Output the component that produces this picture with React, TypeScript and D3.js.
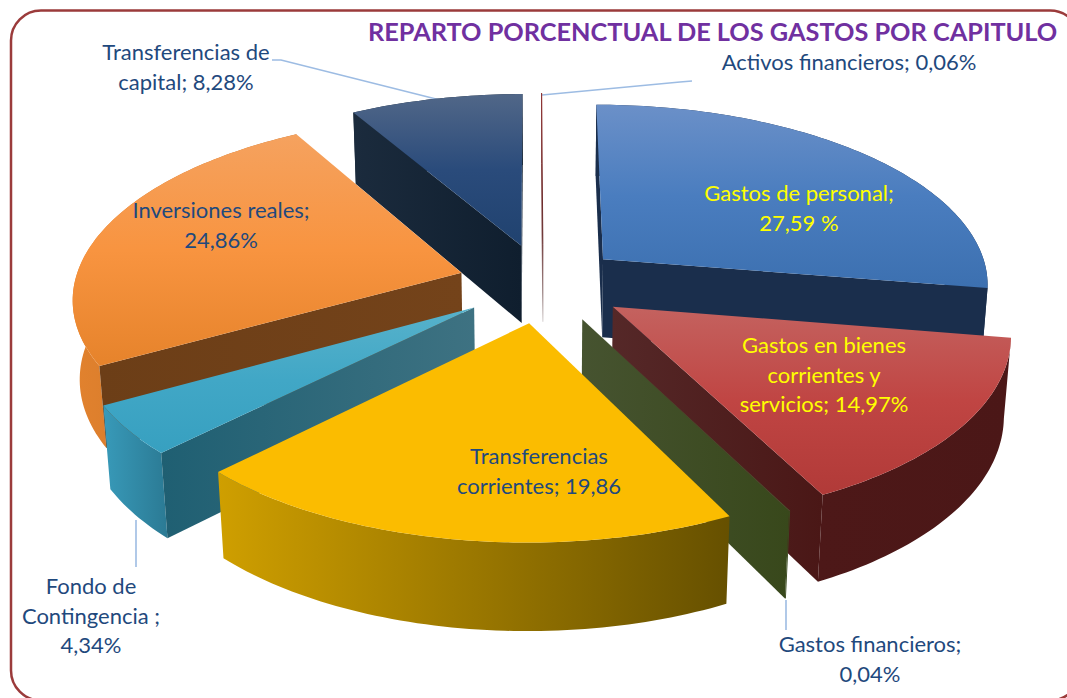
import React from "react";
import * as d3 from "d3";

const categories = ["Gastos de personal","Gastos en bienes corrientes y servicios","Gastos financieros","Transferencias corrientes","Fondo de Contingencia","Inversiones reales","Transferencias de capital","Activos financieros"];
const shares = [27.59, 14.97, 0.04, 19.86, 4.34, 24.86, 8.28, 0.06];
const titleText = "REPARTO PORCENCTUAL DE LOS GASTOS POR CAPITULO";

const labelLines = [
  ["Gastos de personal;", "27,59 %"],
  ["Gastos en bienes", "corrientes y", "servicios; 14,97%"],
  ["Gastos financieros;", "0,04%"],
  ["Transferencias", "corrientes; 19,86"],
  ["Fondo de", "Contingencia ;", "4,34%"],
  ["Inversiones reales;", "24,86%"],
  ["Transferencias de", "capital; 8,28%"],
  ["Activos financieros; 0,06%"],
];

// styles & layout (index-aligned with categories)
const topStops = [
  ["#6b90c8", "#4a7dbf", "#3c70b0"],
  ["#c4625f", "#c04543", "#b13a38"],
  ["#4a5630", "#4a5630", "#4a5630"],
  ["#fbbc00", "#fbbc00", "#fbbc00"],
  ["#57b2cb", "#41a7c6", "#37a0c0"],
  ["#f5a25f", "#f89440", "#e6832b"],
  ["#516788", "#2a4b7b", "#20426f"],
  ["#7a2a2a", "#7a2a2a", "#7a2a2a"],
];
const wallStops = [
  ["#1a2e4c", "#1a2e4c"],
  ["#4d1818", "#4b1717"],
  ["#3a4a1e", "#3a4a1e"],
  ["#cf9f00", "#665000"],
  ["#389ab9", "#2b7a94"],
  ["#e2822e", "#bd6c24"],
  ["#1a2a3c", "#101f30"],
  ["#7a2a2a", "#7a2a2a"],
];
const faceStops = [
  ["#1a2e4c", "#1a2e4c"],
  ["#4a1716", "#552828"],
  ["#38481b", "#465330"],
  ["#6b5200", "#6b5200"],
  ["#3e7282", "#1f5f72"],
  ["#74431a", "#6c3e17"],
  ["#0f1e2e", "#1b2b3d"],
  ["#5f1a1a", "#5f1a1a"],
];
const explodeBy = [0.207, 0.22, 0.22, 0.22, 0.22, 0.22, 0.22, 0.22];
const drawOrder = [6, 7, 0, 5, 4, 1, 2, 3];
const labelAnchors: [number, number][] = [[799, 201], [824, 353], [870, 652], [539, 464], [91, 594], [221, 218], [186, 60], [849, 70]];
const labelColor = ["#ffff00", "#ffff00", "#1f497d", "#1f497d", "#1f497d", "#1f497d", "#1f497d", "#1f497d"];

const leaderPaths: [number, number][][] = [
  [[272, 60], [281, 60], [440, 100]],
  [[542, 95], [680, 82], [692, 81]],
  [[136, 520], [136, 567]],
  [[786, 600], [786, 630]],
];

const W = 1067, H = 698;
const cx = 543, cy = 283, Rx = 387, Ry = 180, persp = 0.128, depth = 80, conv = 0.015;

function project(u: number, v: number, z: number): [number, number] {
  const w = 1 + persp * v + conv * z;
  return [cx + (Rx * u) / w, cy - (Ry * v) / w + (depth * z) / w];
}

const pieGen = d3.pie<number>().sort(null).value((d) => d).startAngle(0).endAngle(2 * Math.PI);
const arcs = pieGen(shares);
const line = d3.line();

function sliceGeometry(i: number) {
  const a = arcs[i];
  const mid = (a.startAngle + a.endAngle) / 2;
  const ox = explodeBy[i] * Math.sin(mid), oy = explodeBy[i] * Math.cos(mid);
  const steps = Math.max(2, Math.ceil((a.endAngle - a.startAngle) / 0.02));
  const angles = d3.range(steps + 1).map((k) => a.startAngle + ((a.endAngle - a.startAngle) * k) / steps);
  const rim = (z: number) => angles.map((t) => project(ox + Math.sin(t), oy + Math.cos(t), z));
  const apex = (z: number) => project(ox, oy, z);
  const rimTop = rim(0), rimBot = rim(1);
  const closed = (pts: [number, number][]) => line(pts) + "Z";
  const top = closed([apex(0), ...rimTop]);
  const wall = closed([...rimTop, ...rimBot.slice().reverse()]);
  const startPoly: [number, number][] = [apex(0), rimTop[0], rimBot[0], apex(1)];
  const endPoly: [number, number][] = [rimTop[steps], apex(0), apex(1), rimBot[steps]];
  return { top, wall, startPoly, endPoly, closed };
}

export default function App() {
  return (
    <svg width={W} height={H} viewBox={`0 0 ${W} ${H}`} style={{ position: "absolute", left: 0, top: 0, display: "block", background: "#fff" }} fontFamily="Lato, Carlito, sans-serif">
      <defs>
        {categories.map((_, i) => (
          <React.Fragment key={i}>
            <linearGradient id={`top${i}`} x1="0" y1="0" x2="0" y2="1">
              <stop offset="0" stopColor={topStops[i][0]} />
              <stop offset="0.5" stopColor={topStops[i][1]} />
              <stop offset="1" stopColor={topStops[i][2]} />
            </linearGradient>
            <linearGradient id={`wall${i}`} x1="0" y1="0" x2="1" y2="0">
              <stop offset="0" stopColor={wallStops[i][0]} />
              <stop offset="1" stopColor={wallStops[i][1]} />
            </linearGradient>
            <linearGradient id={`face${i}`} x1="1" y1="0" x2="0" y2="0">
              <stop offset="0" stopColor={faceStops[i][0]} />
              <stop offset="1" stopColor={faceStops[i][1]} />
            </linearGradient>
          </React.Fragment>
        ))}
        <linearGradient id="activos" gradientUnits="userSpaceOnUse" x1="0" y1="95" x2="0" y2="328">
          <stop offset="0" stopColor="#8a2c2c" />
          <stop offset="0.6" stopColor="#5a1a1a" />
          <stop offset="0.85" stopColor="#a08a8a" />
          <stop offset="1" stopColor="#eeeeee" />
        </linearGradient>
      </defs>

      <rect x={11} y={10.5} width={1069} height={690} rx={30} ry={30} fill="#fff" stroke="#9b3b3b" strokeWidth={2.5} />

      {leaderPaths.map((p, i) => (
        <path key={i} d={line(p) as string} fill="none" stroke="#9dbce3" strokeWidth={1.6} />
      ))}

      {drawOrder.map((i) => {
        const g = sliceGeometry(i);
        if (categories[i] === "Activos financieros") {
          return <path key={i} d={g.closed(g.startPoly)} fill="none" stroke="url(#activos)" strokeWidth={0.9} />;
        }
        const faces = [g.startPoly, g.endPoly].filter((poly) => d3.polygonArea(poly) > 0);
        return (
          <g key={i}>
            <path d={g.wall} fill={`url(#wall${i})`} />
            {faces.map((poly, k) => (
              <path key={k} d={g.closed(poly)} fill={`url(#face${i})`} />
            ))}
            <path d={g.top} fill={`url(#top${i})`} />
          </g>
        );
      })}

      <text x={368} y={41} fontSize={25.3} fontWeight={700} fill="#7030a0">{titleText}</text>

      {labelLines.map((lines, i) => (
        <text key={i} fontSize={22} fill={labelColor[i]} textAnchor="middle">
          {lines.map((t, k) => (
            <tspan key={k} x={labelAnchors[i][0]} y={labelAnchors[i][1] + k * 29.5}>{t}</tspan>
          ))}
        </text>
      ))}
    </svg>
  );
}
